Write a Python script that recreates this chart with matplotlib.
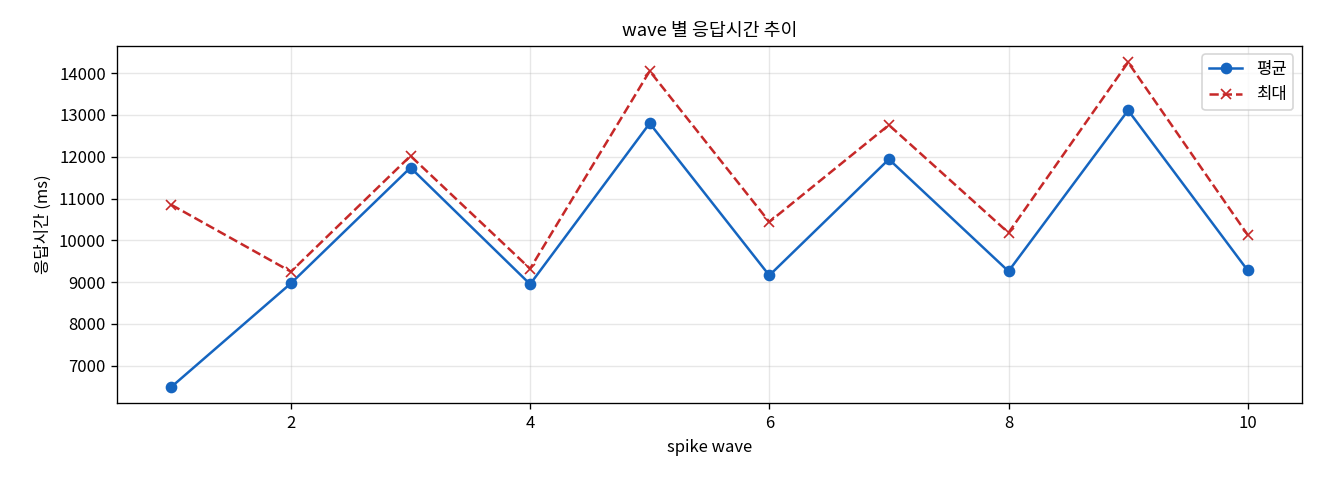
import matplotlib
matplotlib.use("Agg")
import matplotlib.pyplot as plt

plt.rcParams['font.family'] = ['Noto Sans CJK KR', 'DejaVu Sans']

# data
waves = [1, 2, 3, 4, 5, 6, 7, 8, 9, 10]
avg_ms = [6490, 8970, 11740, 8950, 12800, 9160, 11940, 9260, 13110, 9280]
max_ms = [10850, 9250, 12020, 9320, 14050, 10440, 12760, 10180, 14260, 10130]

fig, ax = plt.subplots(figsize=(11, 4), dpi=120)

ax.plot(waves, avg_ms, color="#1565C0", marker="o", markersize=6, linewidth=1.5, label="평균")
ax.plot(waves, max_ms, color="#C62828", marker="x", markersize=6, linewidth=1.5,
        linestyle="--", label="최대")

ax.set_title("wave 별 응답시간 추이", fontsize=11)
ax.set_xlabel("spike wave", fontsize=10)
ax.set_ylabel("응답시간 (ms)", fontsize=10)
ax.grid(True, alpha=0.3)
ax.legend(loc="upper right", fontsize=10)

fig.subplots_adjust(left=0.089, right=0.986, top=0.904, bottom=0.16)
fig.savefig("out.png")
